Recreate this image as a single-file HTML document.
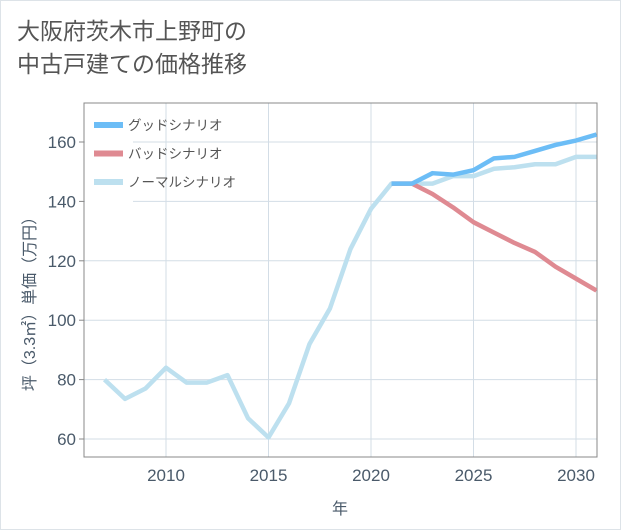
<!DOCTYPE html>
<html><head><meta charset="utf-8"><style>
body{margin:0;background:#fff;}
#wrap{position:relative;width:619px;height:528px;border:1px solid #dde3e8;background:#fff;font-family:"Liberation Sans","Noto Sans CJK JP",sans-serif;}
#title{position:absolute;left:16px;top:14px;font-size:23px;line-height:33px;color:#555;}
</style></head><body>
<div id="wrap">
<div id="title">大阪府茨木市上野町の<br>中古戸建ての価格推移</div>
<svg id="chart" width="621" height="530" style="position:absolute;left:-1px;top:-1px"></svg>
</div>
<script>
const normalYears=[2007,2008,2009,2010,2011,2012,2013,2014,2015,2016,2017,2018,2019,2020,2021,2022,2023,2024,2025,2026,2027,2028,2029,2030,2031];
const normalValues=[80,73.5,77,84,79,79,81.5,67,60.5,72,92,104,124,137.5,146,146,146,148.5,148.5,151,151.5,152.5,152.5,155,155];
const scenarioYears=[2021,2022,2023,2024,2025,2026,2027,2028,2029,2030,2031];
const goodValues=[146,146,149.5,149,150.5,154.5,155,157,159,160.5,162.5];
const badValues=[146,146,142.5,138,133,129.5,126,123,118,114,110];
const xTicks=[2010,2015,2020,2025,2030];
const yTicks=[60,80,100,120,140,160];
const L=84,R=597,T=103,B=457;
const x=y=>166+(y-2010)*20.5;
const yv=v=>439-(v-60)*2.97;
const svg=document.getElementById('chart');
const NS='http://www.w3.org/2000/svg';
function mk(t,a){const e=document.createElementNS(NS,t);for(const k in a)e.setAttribute(k,a[k]);svg.appendChild(e);return e;}
for(const t of xTicks){const l=mk('line',{x1:x(t),x2:x(t),y1:T,y2:B,stroke:'#d3dde6','stroke-width':1});


const tx=mk('text',{x:x(t),y:481,'text-anchor':'middle','font-size':17,fill:'#4a5a6a'});tx.textContent=t;

}
for(const t of yTicks){const l=mk('line',{x1:L,x2:R,y1:yv(t),y2:yv(t),stroke:'#d3dde6','stroke-width':1});


const tk=mk('line',{x1:L-5,x2:L,y1:yv(t),y2:yv(t),stroke:'#888'});


const tx=mk('text',{x:L-8,y:yv(t)+6,'text-anchor':'end','font-size':17,fill:'#4a5a6a'});tx.textContent=t;

}
const frame=mk('rect',{x:L,y:T,width:R-L,height:B-T,fill:'none',stroke:'#888','stroke-width':1});


const clip=mk('clipPath',{id:'c'});const cr=document.createElementNS(NS,'rect');cr.setAttribute('x',L);cr.setAttribute('y',T);cr.setAttribute('width',R-L);cr.setAttribute('height',B-T);clip.appendChild(cr);
function line(xs,vs,col,name){const p=mk('polyline',{points:xs.map((a,i)=>x(a)+','+yv(vs[i])).join(' '),fill:'none',stroke:col,'stroke-width':4.5,'stroke-linejoin':'round','clip-path':'url(#c)'});

}
line(normalYears,normalValues,'#bde0ef','normal-scenario-line');
line(scenarioYears,badValues,'#df8a92','bad-scenario-line');
line(scenarioYears,goodValues,'#6cbdf6','good-scenario-line');
const lb=mk('rect',{x:L+1,y:T+1,width:48,height:100,fill:'#fff'});


const leg=[['グッドシナリオ','#6cbdf6'],['バッドシナリオ','#df8a92'],['ノーマルシナリオ','#bde0ef']];
leg.forEach((d,i)=>{const yy=125+i*28.5;const r=mk('rect',{x:94,y:yy-3,width:29,height:6,fill:d[1]});


const t=mk('text',{x:128,y:yy+5,'font-size':13.5,fill:'#555'});t.textContent=d[0];

});
const xt=mk('text',{x:340,y:514,'text-anchor':'middle','font-size':16,fill:'#4a5a6a'});xt.textContent='年';


const yt=mk('text',{x:0,y:0,'text-anchor':'middle','font-size':16,fill:'#4a5a6a',transform:'translate(35,300) rotate(-90)'});yt.textContent='坪（3.3㎡）単価（万円）';


</script>
</body></html>
